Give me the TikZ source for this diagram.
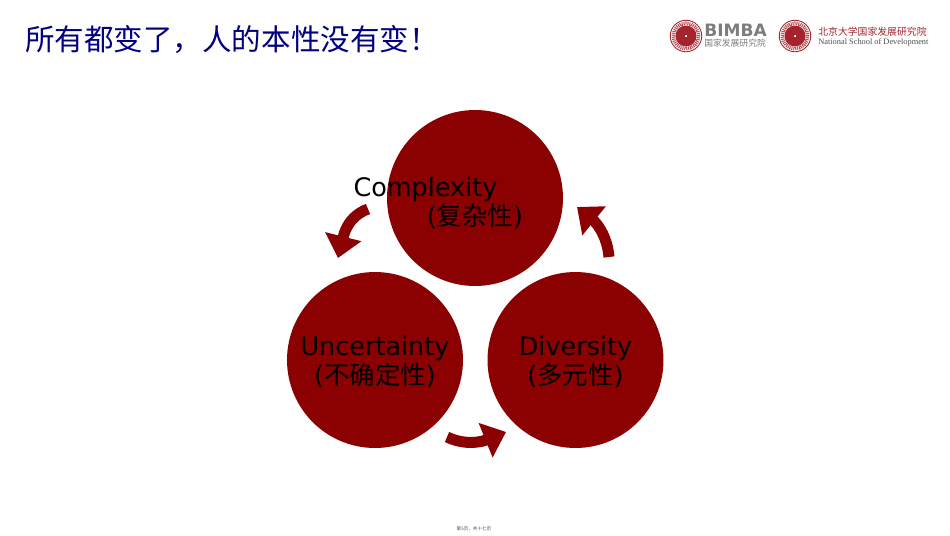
\documentclass[tikz,border=0pt]{standalone}
\usepackage{fontspec}
\setmainfont{DejaVu Sans}
\newfontfamily\cjk{Noto Sans CJK SC}
\newfontfamily\serifen{Liberation Serif}
\usepackage{tikz}
\usetikzlibrary{arrows.meta}
\definecolor{darkred}{RGB}{139,0,0}
\definecolor{titleblue}{RGB}{0,0,128}
\definecolor{logored}{RGB}{165,35,45}
\definecolor{logogray}{RGB}{125,125,125}
\tikzset{
  bubble/.style={circle,fill=darkred,minimum size=3.52cm,inner sep=0pt},
  bubbletext/.style={align=center,text=black,font=\fontsize{14.5}{17}\selectfont},
  flow/.style={darkred,line width=0.22cm,-{Triangle[width=0.72cm,length=0.44cm]}},
}
\newcommand{\seal}[2]{
  \node[circle,draw=logored,line width=0.5pt,fill=white,minimum size=0.63cm,inner sep=0pt] (#2) at (#1) {};
  \draw[logored!80,line width=2pt,dash pattern=on 0.6pt off 0.5pt] (#1) circle (0.255cm);
  \node[circle,fill=logored,minimum size=0.42cm,inner sep=0pt] at (#1) {};
  \foreach \a in {35,60,90,120,145} {
    \draw[white,line width=0.7pt] (#1) ++(0,-0.12) -- ++(\a:0.27);
  }
  \draw[white,line width=0.7pt] (#1) ++(-0.12,-0.14) -- ++(0.24,0);
}
\begin{document}
\begin{tikzpicture}[x=0.02cm,y=-0.02cm]
      \useasboundingbox (0,0) rectangle (950,535);

      \node[anchor=base west,inner sep=0pt,text=titleblue,font=\fontsize{16.8}{18}\selectfont\cjk] (title) at (25,50) {所有都变了，人的本性没有变！};

      % logos
      \seal{686,36}{bimbaseal}
      \node[anchor=base west,inner sep=0pt,text=logogray,font=\fontsize{9.7}{10}\selectfont\bfseries] (bimba) at (704,36.5) {BIMBA};
      \node[anchor=base west,inner sep=0pt,text=logogray,font=\fontsize{5}{6}\selectfont\cjk] (bimbacn) at (704,46.5) {国家发展研究院};
      \seal{795,36}{nsdseal}
      \node[anchor=base west,inner sep=0pt,text=logored,font=\fontsize{5.6}{6}\selectfont\cjk] (nsdcn) at (818,35) {北京大学国家发展研究院};
      \node[anchor=base west,inner sep=0pt,text=black!70,font=\fontsize{4.75}{5}\selectfont\serifen] (nsden) at (818,44) {National School of Development};

      \node[bubble] (top) at (475,198) {};
      \node[bubble] (left) at (375,360) {};
      \node[bubble] (right) at (575.5,360) {};

      \node[bubbletext,anchor=base] (toplabel) at (425.5,196) {Complexity};
      \node[bubbletext,anchor=base] (topcn) at (475,225) {({\cjk 复杂性})};
      \node[bubbletext,anchor=base] (leftlabel) at (375,355) {Uncertainty};
      \node[bubbletext,anchor=base] (leftcn) at (375,384) {({\cjk 不确定性})};
      \node[bubbletext,anchor=base] (rightlabel) at (575.5,355) {Diversity};
      \node[bubbletext,anchor=base] (rightcn) at (575.5,384) {({\cjk 多元性})};

      \coordinate (ltail) at (368,209);
      \coordinate (lhead) at (338,258);
      \coordinate (rtail) at (609,257);
      \coordinate (rhead) at (577,207);
      \coordinate (btail) at (447,437);
      \coordinate (bhead) at (506,432);
      \draw[flow] (ltail) to[out=200,in=76] (lhead);
      \draw[flow] (rtail) to[out=95,in=-39] (rhead);
      \draw[flow] (btail) to[out=-25,in=202] (bhead);

      \node[anchor=center,inner sep=0pt,text=black!70,font=\fontsize{2.6}{3}\selectfont\cjk] (pageno) at (474,528.5) {第5页，共十七页};
  \end{tikzpicture}
\end{document}
